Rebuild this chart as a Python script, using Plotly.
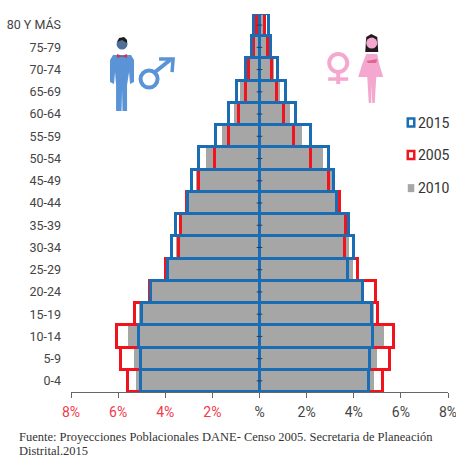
import plotly.graph_objects as go

categories = ["0-4","5-9","10-14","15-19","20-24","25-29","30-34","35-39","40-44","45-49",
              "50-54","55-59","60-64","65-69","70-74","75-79","80 Y MÁS"]
male_2015 = [5.03,5.03,5.10,5.00,4.60,3.90,3.70,3.55,3.05,2.85,2.58,1.84,1.30,0.94,0.58,0.33,0.23]
male_2005 = [5.57,5.89,6.06,5.28,4.65,3.98,3.40,3.33,3.07,2.55,1.88,1.29,0.87,0.58,0.43,0.23,0.12]
male_2010 = [5.25,5.33,5.60,5.10,4.60,3.90,3.55,3.40,3.05,2.70,2.28,1.60,1.10,0.82,0.50,0.27,0.18]
female_2015 = [4.66,4.70,4.83,4.77,4.40,3.77,4.00,3.80,3.27,3.17,2.94,2.17,1.55,1.11,0.77,0.48,0.39]
female_2005 = [5.22,5.55,5.69,5.05,4.94,4.20,3.63,3.68,3.42,2.93,2.19,1.48,1.04,0.73,0.55,0.38,0.24]
female_2010 = [4.88,5.00,5.29,4.85,4.35,3.95,3.80,3.70,3.30,3.10,2.68,1.82,1.30,0.85,0.62,0.42,0.28]
x_ticks = [-8,-6,-4,-2,0,2,4,6,8]
x_labels = ['<span style="color:#f0394a">8%</span>','<span style="color:#f0394a">6%</span>',
            '<span style="color:#f0394a">4%</span>','<span style="color:#f0394a">2%</span>',
            "%","2%","4%","6%","8%"]
legend_years = ["2015","2005","2010"]
source_lines = ["Fuente: Proyecciones Poblacionales DANE- Censo 2005. Secretaria de Planeación",
                "Distrital.2015"]

BLUE, RED, GRAY = "#1a6db3", "#f0141e", "#a6a6a6"
W, H = 456, 457
L, R, T, B = 71, 447.7, 14, 391.7

def px(x): return (x - L) / (R - L)
def py(y): return 1 - (y - T) / (B - T)
def path(points, close=True):
    s = "M " + " L ".join(f"{px(a):.4f},{py(b):.4f}" for a, b in points)
    return s + (" Z" if close else "")

fig = go.Figure()
for name, m, f, fill, line, lw in [
    ("2010", male_2010, female_2010, GRAY, GRAY, 0),
    ("2005", male_2005, female_2005, "rgba(0,0,0,0)", RED, 3),
    ("2015", male_2015, female_2015, "rgba(0,0,0,0)", BLUE, 3),
]:
    for vals, sign in [(m, -1), (f, 1)]:
        fig.add_bar(y=categories, x=[sign * v for v in vals], orientation="h", name=name,
                    marker=dict(color=fill, line=dict(color=line, width=lw)), showlegend=False)
fig.add_scatter(y=categories, x=[0] * len(categories), mode="markers", showlegend=False,
                marker=dict(symbol="line-ew", size=4, line=dict(color="#1f3f66", width=1)))

shapes, annos = [], []
def add_path(points, fill=None, line=None, lw=0, close=True):
    shapes.append(dict(type="path", xref="paper", yref="paper", path=path(points, close),
                       fillcolor=fill if fill else "rgba(0,0,0,0)",
                       line=dict(color=line if line else "rgba(0,0,0,0)", width=lw), layer="above"))
def add_circle(cx, cy, r, fill=None, line=None, lw=0):
    shapes.append(dict(type="circle", xref="paper", yref="paper",
                       x0=px(cx - r), x1=px(cx + r), y0=py(cy + r), y1=py(cy - r),
                       fillcolor=fill if fill else "rgba(0,0,0,0)",
                       line=dict(color=line if line else "rgba(0,0,0,0)", width=lw), layer="above"))

# male figure and symbol
MB, PK = "#5b94d6", "#f5a8cf"
add_circle(122, 44, 5.5, fill="#4f6f96")
add_path([(117,42),(119,38),(124,37),(127,40),(127,43),(122,40)], fill="#1c1c1c")
add_path([(113,55),(131,55),(134,60),(134,82),(130,84),(129,72),(127,85),(127,111),(122.5,111),
          (122,90),(121.5,111),(116,111),(116,85),(115,72),(114,84),(110,82),(110,60)], fill=MB)
add_path([(117,54),(122,56),(127,54),(127,58),(122,56.5),(117,58)], fill="#c23a5a")
add_circle(149, 79, 8.5, line=MB, lw=4)
add_path([(155,72),(170,60)], line=MB, lw=4, close=False)
add_path([(159,59),(173,59),(172,72)], line=MB, lw=3.5, close=False)

# female figure and symbol
add_path([(366,37),(371,34),(377,37),(378,52),(365,52)], fill="#231a20")
add_circle(371.5, 43, 5.5, fill=PK)
add_path([(366,54),(377,54),(379,64),(383,77),(358,77),(362,64)], fill=PK)
add_path([(367,77),(376,77),(374.5,103),(372,103),(371.5,85),(371,103),(368.5,103)], fill=PK)
add_path([(366,61),(377,59),(376,63),(368,63)], fill="#e0668f")
add_circle(338, 63, 9, line=PK, lw=4)
add_path([(338,72),(338,84)], line=PK, lw=4, close=False)
add_path([(328,79),(348,79)], line=PK, lw=3.5, close=False)

# key
for yr, yc, c, hollow in zip(legend_years, [122.5, 155, 188], [BLUE, RED, GRAY], [True, True, False]):
    shapes.append(dict(type="rect", xref="paper", yref="paper",
                       x0=px(407.5), x1=px(414), y0=py(yc + 4), y1=py(yc - 4),
                       fillcolor="white" if hollow else c,
                       line=dict(color=c, width=2.5 if hollow else 0), layer="above"))
    annos.append(dict(text=yr, xref="paper", yref="paper", x=px(416), y=py(yc), xanchor="left",
                      yanchor="middle", showarrow=False,
                      font=dict(family="Roboto", size=14, color="#333333")))

for line_text, yc in zip(source_lines, [437, 451]):
    annos.append(dict(text=line_text, xref="paper", yref="paper", x=px(17), y=py(yc), xanchor="left",
                      yanchor="middle", align="left", showarrow=False,
                      font=dict(family="Liberation Serif", size=12.5, color="#333333")))

fig.update_layout(
    width=W, height=H, barmode="overlay", bargap=0,
    margin=dict(l=L, r=W - R, t=T, b=H - B, pad=0, autoexpand=False),
    paper_bgcolor="white", plot_bgcolor="white",
    font=dict(family="Roboto", color="#444444"),
    shapes=shapes, annotations=annos,
    xaxis=dict(range=[-8, 8], tickvals=x_ticks, ticktext=x_labels, showgrid=False, zeroline=False,
               automargin=False, ticklabeloverflow="allow", ticklabelstandoff=2,
               showline=True, linecolor="#666666", linewidth=1, ticks="outside", ticklen=5,
               tickcolor="#666666", tickfont=dict(size=14, color="#444444")),
    yaxis=dict(type="category", categoryorder="array", categoryarray=categories, range=[-0.5, 16.5],
               automargin=False, showgrid=False, zeroline=False, showline=False, ticks="",
               ticklabelstandoff=9, tickfont=dict(size=12.5, color="#444444")),
)
fig.write_html("out.html", config={"displayModeBar": False},
               post_script="document.body.style.margin='0';document.documentElement.style.overflow='hidden';")
